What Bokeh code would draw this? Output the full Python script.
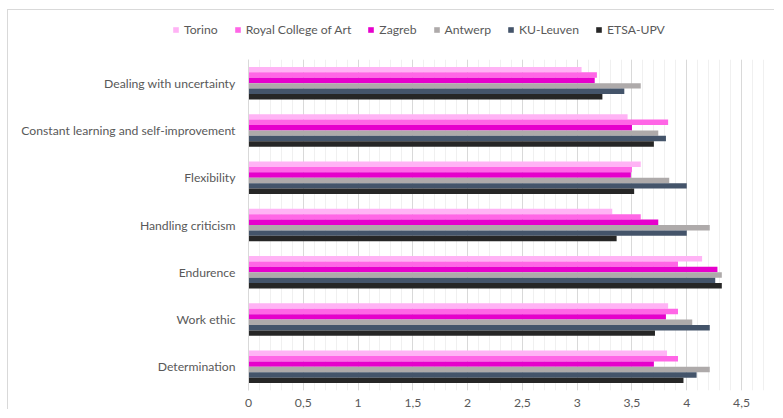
import numpy as np
from bokeh.plotting import figure
from bokeh.models import (ColumnDataSource, FactorRange, Range1d, FixedTicker,
                          Legend, LegendItem)
from bokeh.transform import dodge
from bokeh.embed import file_html
from bokeh.resources import INLINE

categories = ["Dealing with uncertainty", "Constant learning and self-improvement",
              "Flexibility", "Handling criticism", "Endurence", "Work ethic",
              "Determination"]
series_names = ["Torino", "Royal College of Art", "Zagreb", "Antwerp",
                "KU-Leuven", "ETSA-UPV"]
torino = [3.04, 3.46, 3.58, 3.32, 4.14, 3.83, 3.82]
rca = [3.18, 3.83, 3.50, 3.58, 3.92, 3.92, 3.92]
zagreb = [3.16, 3.50, 3.49, 3.74, 4.28, 3.81, 3.70]
antwerp = [3.58, 3.74, 3.84, 4.21, 4.32, 4.05, 4.21]
ku_leuven = [3.43, 3.81, 4.00, 4.00, 4.26, 4.21, 4.09]
etsa_upv = [3.23, 3.70, 3.52, 3.36, 4.32, 3.71, 3.97]
tick_values = [0, 0.5, 1, 1.5, 2, 2.5, 3, 3.5, 4, 4.5]
tick_labels = ["0", "0,5", "1", "1,5", "2", "2,5", "3", "3,5", "4", "4,5"]

colors = ["#FFB3F5", "#FF66E6", "#E600CC", "#AEAAAA", "#44546A", "#262626"]

FONT = "Lato"
TEXT = "#595959"
FS = "12.2px"
BORDER = "1px solid #d9d9d9"

source = ColumnDataSource(dict(cat=categories, s0=torino, s1=rca, s2=zagreb,
                               s3=antwerp, s4=ku_leuven, s5=etsa_upv))

# ---- legend strip ----
lg = figure(width=767, height=42, output_backend="svg", toolbar_location=None,
            x_range=Range1d(0, 1), y_range=Range1d(0, 1),
            x_axis_location=None, y_axis_location=None,
            min_border_left=0, min_border_right=0, min_border_top=0,
            min_border_bottom=0)
lg.styles = {"margin-left": "7px", "margin-top": "9px",
             "border-left": BORDER, "border-top": BORDER}
lg.outline_line_color = None
lg.xgrid.visible = False
lg.ygrid.visible = False
# zero-width proxy bars that only carry the legend swatch styles
swatches = [lg.hbar(y=[0.5], right=[0], left=0, height=0.1, fill_color=c,
                    line_color=None) for c in colors]
legend = Legend(items=[LegendItem(label=n, renderers=[r]) for n, r in zip(series_names, swatches)],
                orientation="horizontal", location=(164, 15),
                glyph_width=7, glyph_height=7, label_standoff=5, spacing=16,
                label_height=14, padding=0, margin=0,
                border_line_color=None, background_fill_alpha=0,
                label_text_font=FONT, label_text_font_size=FS,
                label_text_color=TEXT)
lg.add_layout(legend, "center")

# ---- main chart ----
p = figure(width=767, height=358, output_backend="svg", toolbar_location=None,
           y_range=FactorRange(factors=list(reversed(categories)), range_padding=0),
           x_range=Range1d(0, 4.81),
           min_border_left=240, min_border_right=0, min_border_top=8,
           min_border_bottom=18)
p.styles = {"margin-left": "7px", "border-left": BORDER}
p.outline_line_color = None

bar_h = 0.1146
for i, col in enumerate(colors):
    off = (2.5 - i) * bar_h
    p.hbar(y=dodge("cat", off, range=p.y_range), right="s%d" % i, left=0,
           height=bar_h, source=source, fill_color=col, line_color=None)

ticker = FixedTicker(ticks=tick_values,
                     minor_ticks=[round(v, 1) for v in np.arange(0, 4.85, 0.1)])
p.xaxis.ticker = ticker
p.xaxis.major_label_overrides = {v: l for v, l in zip(tick_values, tick_labels)}
p.xaxis.axis_line_color = None
p.xaxis.major_tick_line_color = None
p.xaxis.minor_tick_line_color = None
p.xaxis.major_label_standoff = 2
p.xaxis.major_label_text_font = FONT
p.xaxis.major_label_text_font_size = FS
p.xaxis.major_label_text_color = TEXT

p.xgrid.grid_line_color = "#d9d9d9"
p.xgrid.minor_grid_line_color = "#f0f0f0"
p.ygrid.grid_line_color = None

p.yaxis.axis_line_color = "#d9d9d9"
p.yaxis.major_tick_out = 0
p.yaxis.major_tick_in = 0
p.yaxis.major_label_standoff = 13
p.yaxis.major_label_text_font = FONT
p.yaxis.major_label_text_font_size = FS
p.yaxis.major_label_text_color = TEXT

open("out.html", "w").write(file_html([lg, p], INLINE))
